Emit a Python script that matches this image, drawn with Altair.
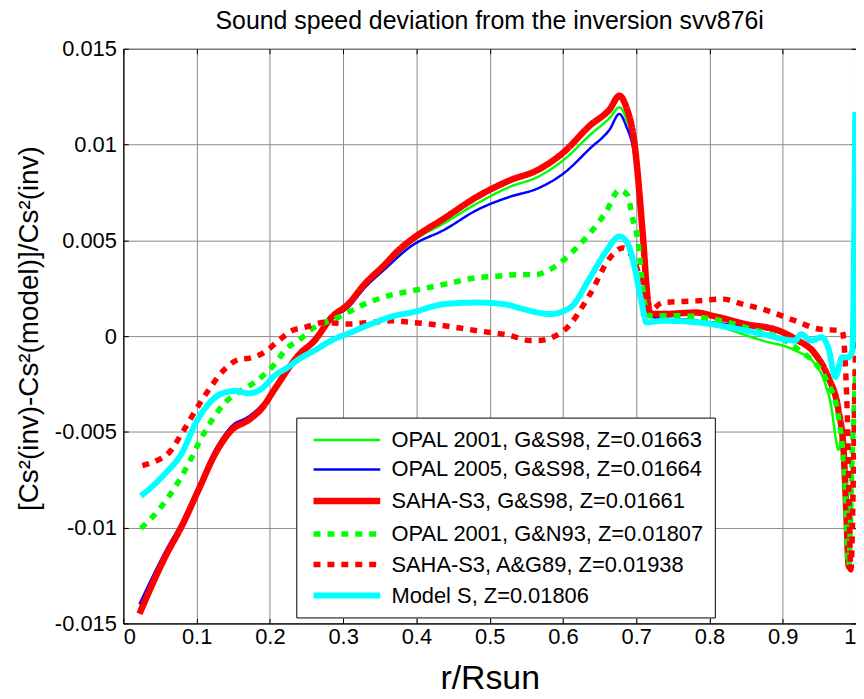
import altair as alt
import pandas as pd

SERIES = [
    "OPAL 2001, G&S98, Z=0.01663",
    "OPAL 2005, G&S98, Z=0.01664",
    "SAHA-S3, G&S98, Z=0.01661",
    "OPAL 2001, G&N93, Z=0.01807",
    "SAHA-S3, A&G89, Z=0.01938",
    "Model S, Z=0.01806",
]
COLORS = ["#00ff00", "#0000ff", "#ff0000", "#00ff00", "#ff0000", "#00ffff"]
DASHES = [[1, 0], [1, 0], [1, 0], [7, 7], [7, 7], [1, 0]]
WIDTHS = [2.5, 2.5, 6.5, 5.5, 5.5, 6]

# OPAL 2001, G&S98
g1_x = [0.022, 0.058, 0.080, 0.103, 0.126, 0.148, 0.171, 0.189, 0.207, 0.230, 0.261, 0.284, 0.307,
        0.329, 0.357, 0.393, 0.438, 0.483, 0.528, 0.565, 0.601, 0.637, 0.664, 0.677, 0.686, 0.698,
        0.709, 0.716, 0.722, 0.782, 0.872, 0.917, 0.944, 0.958, 0.967, 0.972, 0.976, 0.981, 0.985,
        0.990, 0.995]
g1_y = [-0.0142, -0.0113, -0.0098, -0.0079, -0.0060, -0.0048, -0.0043, -0.0037, -0.0027, -0.0014,
        -0.0002, 0.0009, 0.0016, 0.0026, 0.0036, 0.0049, 0.0059, 0.00693, 0.0078, 0.0083, 0.0092,
        0.0105, 0.0114, 0.01194, 0.0114, 0.0095, 0.0050, 0.0017, 0.0010, 0.0008, -0.00023, -0.00075,
        -0.00144, -0.00248, -0.00386, -0.00524, -0.00593, -0.00524, -0.0070, -0.0115, -0.0060]

# OPAL 2005, G&S98
b_x = [0.022, 0.058, 0.080, 0.103, 0.126, 0.148, 0.171, 0.189, 0.207, 0.230, 0.261, 0.284, 0.307,
       0.329, 0.357, 0.393, 0.438, 0.483, 0.528, 0.565, 0.601, 0.637, 0.664, 0.677, 0.686, 0.698,
       0.709, 0.716, 0.722, 0.782, 0.849, 0.895, 0.917, 0.944, 0.962, 0.976, 0.983, 0.987, 0.990,
       0.995]
b_y = [-0.0140, -0.0112, -0.0097, -0.0078, -0.0059, -0.0047, -0.0042, -0.0036, -0.0027, -0.0014,
       -0.0002, 0.0009, 0.0015, 0.0025, 0.0035, 0.0047, 0.00555, 0.00659, 0.00728, 0.0077, 0.0085,
       0.0098, 0.0108, 0.0116, 0.0110, 0.0093, 0.0050, 0.0017, 0.0010, 0.0008, 0.0005, 0.0002,
       -0.0002, -0.0010, -0.0022, -0.0039, -0.0059, -0.0094, -0.0119, -0.0121]

# SAHA-S3, G&S98
r_x = [0.022, 0.058, 0.080, 0.103, 0.126, 0.148, 0.171, 0.189, 0.207, 0.230, 0.239, 0.261, 0.284,
       0.307, 0.329, 0.357, 0.374, 0.393, 0.438, 0.483, 0.528, 0.565, 0.601, 0.637, 0.664, 0.677,
       0.686, 0.698, 0.709, 0.716, 0.720, 0.736, 0.782, 0.804, 0.849, 0.895, 0.917, 0.944, 0.962,
       0.976, 0.983, 0.987, 0.990, 0.995]
r_y = [-0.0145, -0.01146, -0.0099, -0.0080, -0.0061, -0.0049, -0.00438, -0.00377, -0.00274,
       -0.00144, -0.0010, -0.00023, 0.00097, 0.00167, 0.0027, 0.00374, 0.00443, 0.00503, 0.00615,
       0.00728, 0.00814, 0.00866, 0.0096, 0.0110, 0.01185, 0.01255, 0.0120, 0.00996, 0.0053,
       0.00184, 0.00115, 0.00115, 0.00123, 0.00106, 0.00063, 0.00028, -0.00015, -0.00092, -0.00213,
       -0.00386, -0.00593, -0.00939, -0.01198, -0.0122]

# OPAL 2001, G&N93
gd_x = [0.024, 0.049, 0.0715, 0.0896, 0.103, 0.121, 0.140, 0.162, 0.180, 0.203, 0.225, 0.239,
        0.261, 0.293, 0.329, 0.370, 0.393, 0.438, 0.483, 0.510, 0.528, 0.565, 0.578, 0.623, 0.659,
        0.677, 0.688, 0.695, 0.703, 0.707, 0.711, 0.718, 0.759, 0.804, 0.849, 0.917, 0.962, 0.976,
        0.985, 0.990, 0.995, 1.0]
gd_y = [-0.01004, -0.00904, -0.00783, -0.00662, -0.00558, -0.00438, -0.00343, -0.00282, -0.00239,
        -0.00162, -0.00058, -0.00023, 0.00046, 0.00097, 0.00167, 0.00219, 0.00236, 0.0027, 0.00305,
        0.00313, 0.00319, 0.00322, 0.00339, 0.00478, 0.0065, 0.00762, 0.00737, 0.00615, 0.00478,
        0.00322, 0.00184, 0.00106, 0.00106, 0.00089, 0.00046, -0.00058, -0.00248, -0.0042,
        -0.00766, -0.01198, -0.0060, -0.0017]

# SAHA-S3, A&G89
rd_x = [0.026, 0.044, 0.062, 0.080, 0.103, 0.121, 0.139, 0.157, 0.175, 0.193, 0.212, 0.230, 0.248,
        0.275, 0.307, 0.338, 0.370, 0.393, 0.438, 0.483, 0.528, 0.555, 0.565, 0.601, 0.637, 0.664,
        0.682, 0.705, 0.711, 0.718, 0.736, 0.782, 0.818, 0.845, 0.872, 0.917, 0.949, 0.981, 0.988,
        0.993, 0.997, 1.0]
rd_y = [-0.00676, -0.00653, -0.0061, -0.00507, -0.0036, -0.00256, -0.0017, -0.00123, -0.00113,
        -0.00084, -0.00023, 0.00028, 0.00046, 0.00072, 0.00063, 0.00072, 0.0008, 0.00072, 0.00054,
        0.00028, 0.00003, -0.00023, -0.00023, 0.00028, 0.00219, 0.00408, 0.0046, 0.00305, 0.00167,
        0.00132, 0.00175, 0.00184, 0.00193, 0.00167, 0.00141, 0.0008, 0.00037, 0.00028, -0.0040,
        -0.0122, -0.0060, 0.0017]

# Model S
c_x = [0.024, 0.040, 0.058, 0.080, 0.0986, 0.117, 0.135, 0.153, 0.171, 0.189, 0.207, 0.225, 0.239,
       0.261, 0.284, 0.311, 0.338, 0.370, 0.393, 0.438, 0.483, 0.519, 0.546, 0.582, 0.610, 0.637,
       0.659, 0.677, 0.688, 0.698, 0.707, 0.714, 0.736, 0.782, 0.827, 0.872, 0.917, 0.925, 0.939,
       0.953, 0.962, 0.972, 0.981, 0.990, 0.995, 0.999]
c_y = [-0.00835, -0.00783, -0.00714, -0.0061, -0.00455, -0.00351, -0.00299, -0.00287, -0.00299,
       -0.00274, -0.00205, -0.00162, -0.00122, -0.00075, -0.00023, 0.0002, 0.00063, 0.00106,
       0.00123, 0.00167, 0.00175, 0.00167, 0.00141, 0.00115, 0.00149, 0.00305, 0.00443, 0.0052,
       0.00486, 0.00356, 0.00184, 0.00072, 0.0008, 0.00072, 0.00046, 0.00011, -0.00023, 0.0001,
       -0.00023, -0.00006, -0.00058, -0.00213, -0.0011, -0.0011, -0.00075, 0.0117]

X_TICKS = [0, 0.1, 0.2, 0.3, 0.4, 0.5, 0.6, 0.7, 0.8, 0.9, 1.0]
Y_TICKS = [-0.015, -0.01, -0.005, 0, 0.005, 0.01, 0.015]

xs = [g1_x, b_x, r_x, gd_x, rd_x, c_x]
ys = [g1_y, b_y, r_y, gd_y, rd_y, c_y]
rows = []
for name, sx, sy in zip(SERIES, xs, ys):
    for i, (a, b) in enumerate(zip(sx, sy)):
        rows.append({"series": name, "r": a, "d": b, "i": i})
df = pd.DataFrame(rows)

FONT = "Liberation Sans"
W, H = 737, 578
XS = alt.Scale(domain=[0, 1], nice=False)
YS = alt.Scale(domain=[-0.015, 0.015], nice=False)

# data layers (no axes of their own)
base = alt.Chart(df).mark_line(clip=True, strokeCap="butt", strokeJoin="round",
                               interpolate="monotone").encode(
    x=alt.X("r:Q", scale=XS, axis=None),
    y=alt.Y("d:Q", scale=YS, axis=None),
    color=alt.Color("series:N", scale=alt.Scale(domain=SERIES, range=COLORS),
                    legend=alt.Legend(title=None, orient="none", legendX=174, legendY=371,
                                      symbolType="M-1,0H5", symbolSize=500, symbolOffset=4,
                                      labelFontSize=22, labelFont=FONT, labelLimit=0,
                                      labelColor="black", labelOffset=52.7,
                                      rowPadding=5.7, padding=10,
                                      strokeColor="black", fillColor="white")),
    strokeDash=alt.StrokeDash("series:N", scale=alt.Scale(domain=SERIES, range=DASHES), legend=None),
    strokeWidth=alt.StrokeWidth("series:N", scale=alt.Scale(type="ordinal", domain=SERIES, range=WIDTHS), legend=None),
    order=alt.Order("i:Q"),
)
layers = [base.transform_filter(alt.datum.series == s) for s in SERIES]

# main axes: labels, grid, titles
main_axes = alt.Chart(df).mark_point(opacity=0).encode(
    x=alt.X("r:Q", scale=XS,
            axis=alt.Axis(values=X_TICKS, title="r/Rsun", labelExpr="format(datum.value, '.1~f')",
                          titleFontSize=34, titleFont=FONT, titleFontWeight="normal",
                          titleY=55, titleBaseline="middle", labelPadding=3, ticks=False)),
    y=alt.Y("d:Q", scale=YS,
            axis=alt.Axis(values=Y_TICKS, title="[Cs²(inv)-Cs²(model)]/Cs²(inv)",
                          labelExpr="replace(format(datum.value, '.3~f'), '\u2212', '-')",
                          titleFontSize=28, titleFont=FONT, titleFontWeight="normal",
                          titleAngle=270, titleX=-94, titleY=281, titleAlign="center",
                          titleBaseline="middle", labelPadding=7, ticks=False)),
)

def tick_axis(orient, offset, values):
    return alt.Axis(orient=orient, offset=offset, values=values, labels=False, grid=False,
                    domain=False, title=None, ticks=True, tickSize=5, tickColor="black",
                    tickWidth=1)

# inward ticks at top edge and right edge
ticks_tr = alt.Chart(df).mark_point(opacity=0).encode(
    x=alt.X("r:Q", scale=XS, axis=tick_axis("bottom", -H, X_TICKS)),
    y=alt.Y("d:Q", scale=YS, axis=tick_axis("left", -W, Y_TICKS)),
)
# inward ticks at bottom edge and left edge
ticks_bl = alt.Chart(df).mark_point(opacity=0).encode(
    x=alt.X("r:Q", scale=XS, axis=tick_axis("top", -H, X_TICKS)),
    y=alt.Y("d:Q", scale=YS, axis=tick_axis("right", -W, Y_TICKS)),
)

chart = alt.layer(main_axes, *layers, ticks_tr, ticks_bl).resolve_axis(
    x="independent", y="independent"
).properties(
    width=W, height=H,
    title=alt.Title("Sound speed deviation from the inversion svv876i", fontSize=25, font=FONT,
                    fontWeight="normal", anchor="middle", offset=4, color="black"),
    autosize=alt.AutoSizeParams(type="none"),
    padding={"left": 116, "top": 39, "right": 0, "bottom": 74},
).configure_axis(
    labelFont=FONT, labelFontSize=22, labelColor="black",
    domainColor="black", domainWidth=1, gridColor="#8a8a8a", gridOpacity=1, gridWidth=1,
    titleColor="black",
).configure_view(stroke="black", strokeWidth=1).configure_legend(
    symbolStrokeWidth=6, symbolFillColor="transparent"
)

chart.save("out.html", embed_options={"renderer": "svg", "actions": False})
